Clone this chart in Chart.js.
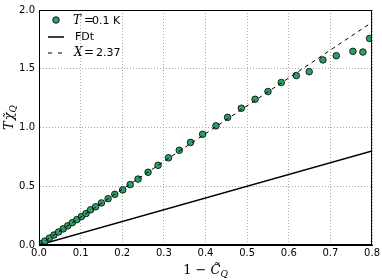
<!DOCTYPE html>
<html>
<head>
<meta charset="utf-8">
<script src="https://cdn.jsdelivr.net/npm/chart.js@4.4.1/dist/chart.umd.min.js"></script>
<style>
html, body { margin: 0; padding: 0; background: #fff; }
#wrap { width: 382px; height: 280px; }
</style>
</head>
<body>
<div id="wrap"><canvas id="chartCanvas" width="382" height="280"></canvas></div>
<script>
// data
const pointsX = [0.005, 0.014, 0.025, 0.036, 0.047, 0.058, 0.069, 0.080, 0.091, 0.102, 0.113,
	0.124, 0.136, 0.150, 0.166, 0.182, 0.201, 0.219, 0.238, 0.262, 0.286, 0.311, 0.337, 0.364,
	0.393, 0.425, 0.453, 0.486, 0.519, 0.550, 0.582, 0.618, 0.649, 0.682, 0.714, 0.754, 0.778, 0.794];
const pointsY = [0.012, 0.033, 0.059, 0.085, 0.111, 0.137, 0.163, 0.190, 0.216, 0.242, 0.268,
	0.300, 0.325, 0.358, 0.394, 0.431, 0.469, 0.514, 0.561, 0.619, 0.678, 0.742, 0.806, 0.873,
	0.942, 1.014, 1.086, 1.164, 1.240, 1.306, 1.383, 1.442, 1.475, 1.575, 1.611, 1.648, 1.642, 1.758];
const fdtX = [0, 0.8];
const fdtY = [0, 0.8];
const fitX = [0, 0.8];
const fitY = [0, 1.896];
const xTicks = [0, 0.1, 0.2, 0.3, 0.4, 0.5, 0.6, 0.7, 0.8];
const yTicks = [0, 0.5, 1.0, 1.5, 2.0];

const green = '#2ca064';
const sans = '"DejaVu Sans", sans-serif';
const serif = '"DejaVu Serif", serif';

function toXY(xs, ys) {
	return xs.map((x, i) => ({ x: x, y: ys[i] }));
}

// frame, axis titles and legend
const decorPlugin = {
	id: 'decor',
	afterDraw(chart) {
		const ctx = chart.ctx;
		const a = chart.chartArea;
		ctx.save();
		ctx.strokeStyle = '#000';
		ctx.lineWidth = 1;
		ctx.strokeRect(a.left + 0.5, a.top + 0.5, a.right - a.left - 1, a.bottom - a.top - 1);

		// x title: 1 - C~_Q
		ctx.fillStyle = '#000';
		ctx.textBaseline = 'alphabetic';
		const cx = (a.left + a.right) / 2;
		const p1 = '1 \u2212 ';
		ctx.font = 'italic 13px ' + serif;
		const wC = ctx.measureText('C\u0303').width;
		ctx.font = 'italic 9px ' + serif;
		const wQ = ctx.measureText('Q').width;
		ctx.font = '13px ' + serif;
		const w1 = ctx.measureText(p1).width;
		let x0 = cx - (w1 + wC + wQ) / 2;
		const by = 274;
		ctx.fillText(p1, x0, by);
		ctx.font = 'italic 13px ' + serif;
		ctx.fillText('C\u0303', x0 + w1, by);
		ctx.font = 'italic 9px ' + serif;
		ctx.fillText('Q', x0 + w1 + wC, by + 3);

		// y title: T chi~_Q
		ctx.save();
		ctx.translate(13, 118);
		ctx.rotate(-Math.PI / 2);
		ctx.font = 'italic 13px ' + serif;
		const wT = ctx.measureText('T').width;
		const wChi = ctx.measureText('\u03c7\u0303').width;
		ctx.font = 'italic 9px ' + serif;
		const wQ2 = ctx.measureText('Q').width;
		let y0 = -(wT + wChi + wQ2) / 2;
		ctx.font = 'italic 13px ' + serif;
		ctx.fillText('T', y0, 0);
		ctx.fillText('\u03c7\u0303', y0 + wT + 1, 0);
		ctx.font = 'italic 9px ' + serif;
		ctx.fillText('Q', y0 + wT + wChi + 1, 3);
		ctx.restore();

		// legend
		ctx.beginPath();
		ctx.arc(56, 20, 3.3, 0, Math.PI * 2);
		ctx.fillStyle = green;
		ctx.fill();
		ctx.lineWidth = 0.8;
		ctx.strokeStyle = '#000';
		ctx.stroke();
		ctx.fillStyle = '#000';
		ctx.textBaseline = 'middle';
		ctx.font = 'italic 12px ' + serif;
		ctx.fillText('T', 73, 21);
		ctx.font = '12px ' + serif;
		ctx.fillText('=', 84, 21);
		ctx.font = '11px ' + sans;
		ctx.fillText('0.1 K', 92, 21);

		ctx.lineWidth = 1.5;
		ctx.beginPath();
		ctx.moveTo(48, 37);
		ctx.lineTo(64, 37);
		ctx.stroke();
		ctx.font = '11px ' + sans;
		ctx.fillText('FDt', 75, 37);

		ctx.lineWidth = 1;
		ctx.setLineDash([4, 6]);
		ctx.beginPath();
		ctx.moveTo(48, 53);
		ctx.lineTo(64, 53);
		ctx.stroke();
		ctx.setLineDash([]);
		ctx.font = 'italic 12px ' + serif;
		ctx.fillText('X', 74, 53);
		ctx.font = '12px ' + serif;
		ctx.fillText('=', 84, 53);
		ctx.font = '11px ' + sans;
		ctx.fillText('2.37', 96, 53);
		ctx.restore();
	}
};

const ctx = document.getElementById('chartCanvas');
new Chart(ctx, {
	type: 'scatter',
	data: {
		datasets: [
			{
				label: 'X = 2.37',
				type: 'line',
				data: toXY(fitX, fitY),
				borderColor: '#000',
				borderWidth: 1,
				borderDash: [4, 4],
				pointRadius: 0,
				order: 0
			},
			{
				label: 'T = 0.1 K',
				data: toXY(pointsX, pointsY),
				backgroundColor: green,
				borderColor: '#000',
				borderWidth: 0.8,
				pointRadius: 3.3,
				order: 1
			},
			{
				label: 'FDt',
				type: 'line',
				data: toXY(fdtX, fdtY),
				borderColor: '#000',
				borderWidth: 1.5,
				pointRadius: 0,
				order: 2
			}
		]
	},
	options: {
		responsive: false,
		animation: false,
		devicePixelRatio: 1,
		layout: { padding: { left: 0, top: 5, right: 8, bottom: 0 } },
		plugins: {
			legend: { display: false },
			tooltip: { enabled: false }
		},
		scales: {
			x: {
				type: 'linear',
				min: 0,
				max: 0.8,
				afterBuildTicks: (scale) => { scale.ticks = xTicks.map(v => ({ value: v })); },
				afterFit: (scale) => { scale.height = 35; },
				ticks: {
					callback: (v) => v.toFixed(1),
					font: { family: sans, size: 10 },
					color: '#000',
					padding: 2,
					maxRotation: 0
				},
				grid: { color: '#aaa', lineWidth: 1, drawTicks: false },
				border: { display: true, color: '#000', dash: [1, 2] }
			},
			y: {
				type: 'linear',
				min: 0,
				max: 2,
				afterBuildTicks: (scale) => { scale.ticks = yTicks.map(v => ({ value: v })); },
				afterFit: (scale) => { scale.width = 39; },
				ticks: {
					callback: (v) => v.toFixed(1),
					font: { family: sans, size: 10 },
					color: '#000',
					padding: 4
				},
				grid: { color: '#aaa', lineWidth: 1, drawTicks: false },
				border: { display: true, color: '#000', dash: [1, 2] }
			}
		}
	},
	plugins: [decorPlugin]
});
</script>
</body>
</html>
